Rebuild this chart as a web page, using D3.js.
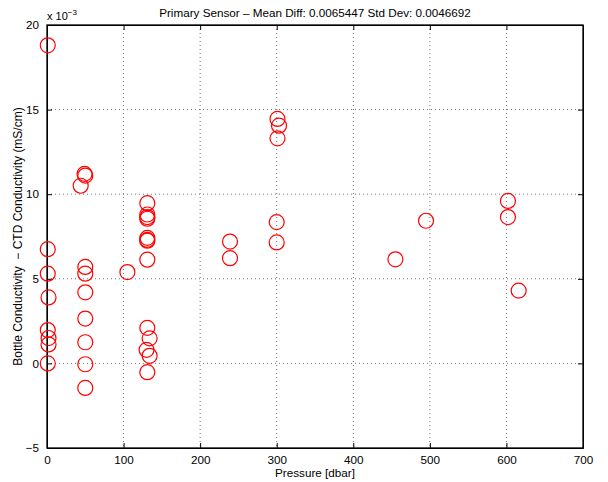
<!DOCTYPE html>
<html lang="en">
<head>
<meta charset="UTF-8">
<title>Primary Sensor - Bottle vs CTD Conductivity</title>
<style>
    body { margin: 0; background: #fff; }
    text { font-family: "Liberation Sans", Arial, sans-serif; fill: #000; }
    .grid line { stroke: #777; stroke-width: 1px; stroke-dasharray: 1 3; }
    .axis path, .axis line { stroke: #000; }
</style>
</head>
<body>
<svg width="608" height="482"></svg>
<script src="https://d3js.org/d3.v7.min.js"></script>
<script>
    // pressure [dbar] of each bottle
    const pressure = [1, 49, 50, 44, 1, 1, 2, 1, 2, 2, 1,
        50, 50, 50, 50, 50, 50, 50, 105,
        131, 131, 131, 131, 131, 131, 131, 131, 131, 134, 130, 134, 131,
        239, 239, 301, 303, 301, 300, 300, 455, 495, 602, 602, 616];
    // bottle - CTD conductivity (mS/cm)
    const diff = [0.0188, 0.0112, 0.0111, 0.0105, 0.00675, 0.0053, 0.0039, 0.00197, 0.0015, 0.00112, 0.0,
        0.0057, 0.0053, 0.0042, 0.00265, 0.00125, -0.00005, -0.00145, 0.0054,
        0.00947, 0.0088, 0.00865, 0.00855, 0.00742, 0.0073, 0.00725, 0.00613, 0.0021, 0.00148, 0.0008, 0.00045, -0.00052,
        0.0072, 0.00622, 0.01445, 0.01405, 0.0133, 0.00835, 0.00715, 0.00615, 0.00843, 0.0096, 0.00865, 0.0043];

    const xTicks = [0, 100, 200, 300, 400, 500, 600, 700];
    const yTicks = [-0.005, 0, 0.005, 0.01, 0.015, 0.02];

    const svg = d3.select("svg");
    const mLeft = 47, mRight = 583, mTop = 25, mBottom = 448;

    const x = d3.scaleLinear().domain([0, 700]).range([mLeft, mRight]);
    const y = d3.scaleLinear().domain([-0.005, 0.02]).range([mBottom, mTop]);

    // dotted grid
    svg.append("g").attr("class", "grid")
        .selectAll("line").data(xTicks.slice(1, -1)).enter().append("line")
        .attr("x1", d => x(d)).attr("x2", d => x(d))
        .attr("y1", mTop).attr("y2", mBottom);
    svg.append("g").attr("class", "grid")
        .selectAll("line").data(yTicks.slice(1, -1)).enter().append("line")
        .attr("x1", mLeft).attr("x2", mRight)
        .attr("y1", d => y(d)).attr("y2", d => y(d));

    const fmtY = d => d3.format("d")(Math.round(d * 1000));

    // axes with inward ticks, box on all sides
    svg.append("g").attr("class", "axis")
        .attr("transform", `translate(0,${mBottom})`)
        .call(d3.axisBottom(x).tickValues(xTicks).tickSizeInner(-5).tickSizeOuter(0).tickPadding(8))
        .selectAll("text").style("font-size", "11.7px");
    svg.append("g").attr("class", "axis")
        .attr("transform", `translate(0,${mTop})`)
        .call(d3.axisTop(x).tickValues(xTicks).tickSizeInner(-5).tickSizeOuter(0).tickFormat(""));
    svg.append("g").attr("class", "axis")
        .attr("transform", `translate(${mLeft},0)`)
        .call(d3.axisLeft(y).tickValues(yTicks).tickFormat(fmtY).tickSizeInner(-5).tickSizeOuter(0).tickPadding(8))
        .selectAll("text").style("font-size", "11.7px");
    svg.append("g").attr("class", "axis")
        .attr("transform", `translate(${mRight},0)`)
        .call(d3.axisRight(y).tickValues(yTicks).tickSizeInner(-5).tickSizeOuter(0).tickFormat(""));

    svg.append("rect")
        .attr("x", mLeft).attr("y", mTop)
        .attr("width", mRight - mLeft).attr("height", mBottom - mTop)
        .attr("fill", "none").attr("stroke", "#000").attr("stroke-width", 1.3);

    // markers
    svg.append("g")
        .selectAll("circle").data(pressure).enter().append("circle")
        .attr("cx", d => x(d))
        .attr("cy", (d, i) => y(diff[i]))
        .attr("r", 7.5)
        .attr("fill", "none")
        .attr("stroke", "#ff0000")
        .attr("stroke-width", 1.2);

    // labels
    svg.append("text")
        .attr("x", (mLeft + mRight) / 2).attr("y", 17)
        .attr("text-anchor", "middle").style("font-size", "11.7px")
        .text("Primary Sensor \u2013 Mean Diff: 0.0065447 Std Dev: 0.0046692");

    const mult = svg.append("text")
        .attr("x", 47).attr("y", 20).style("font-size", "11px");
    mult.append("tspan").text("x 10");
    mult.append("tspan").attr("dy", -5).style("font-size", "8px").text("\u22123");

    svg.append("text")
        .attr("x", (mLeft + mRight) / 2).attr("y", 477)
        .attr("text-anchor", "middle").style("font-size", "11.7px")
        .text("Pressure [dbar]");

    svg.append("text")
        .attr("transform", `translate(22,${(mTop + mBottom) / 2}) rotate(-90)`)
        .attr("text-anchor", "middle").style("font-size", "12px")
        .style("white-space", "pre")
        .text("Bottle Conductivity  \u2212 CTD Conductivity (mS/cm)");
</script>
</body>
</html>
